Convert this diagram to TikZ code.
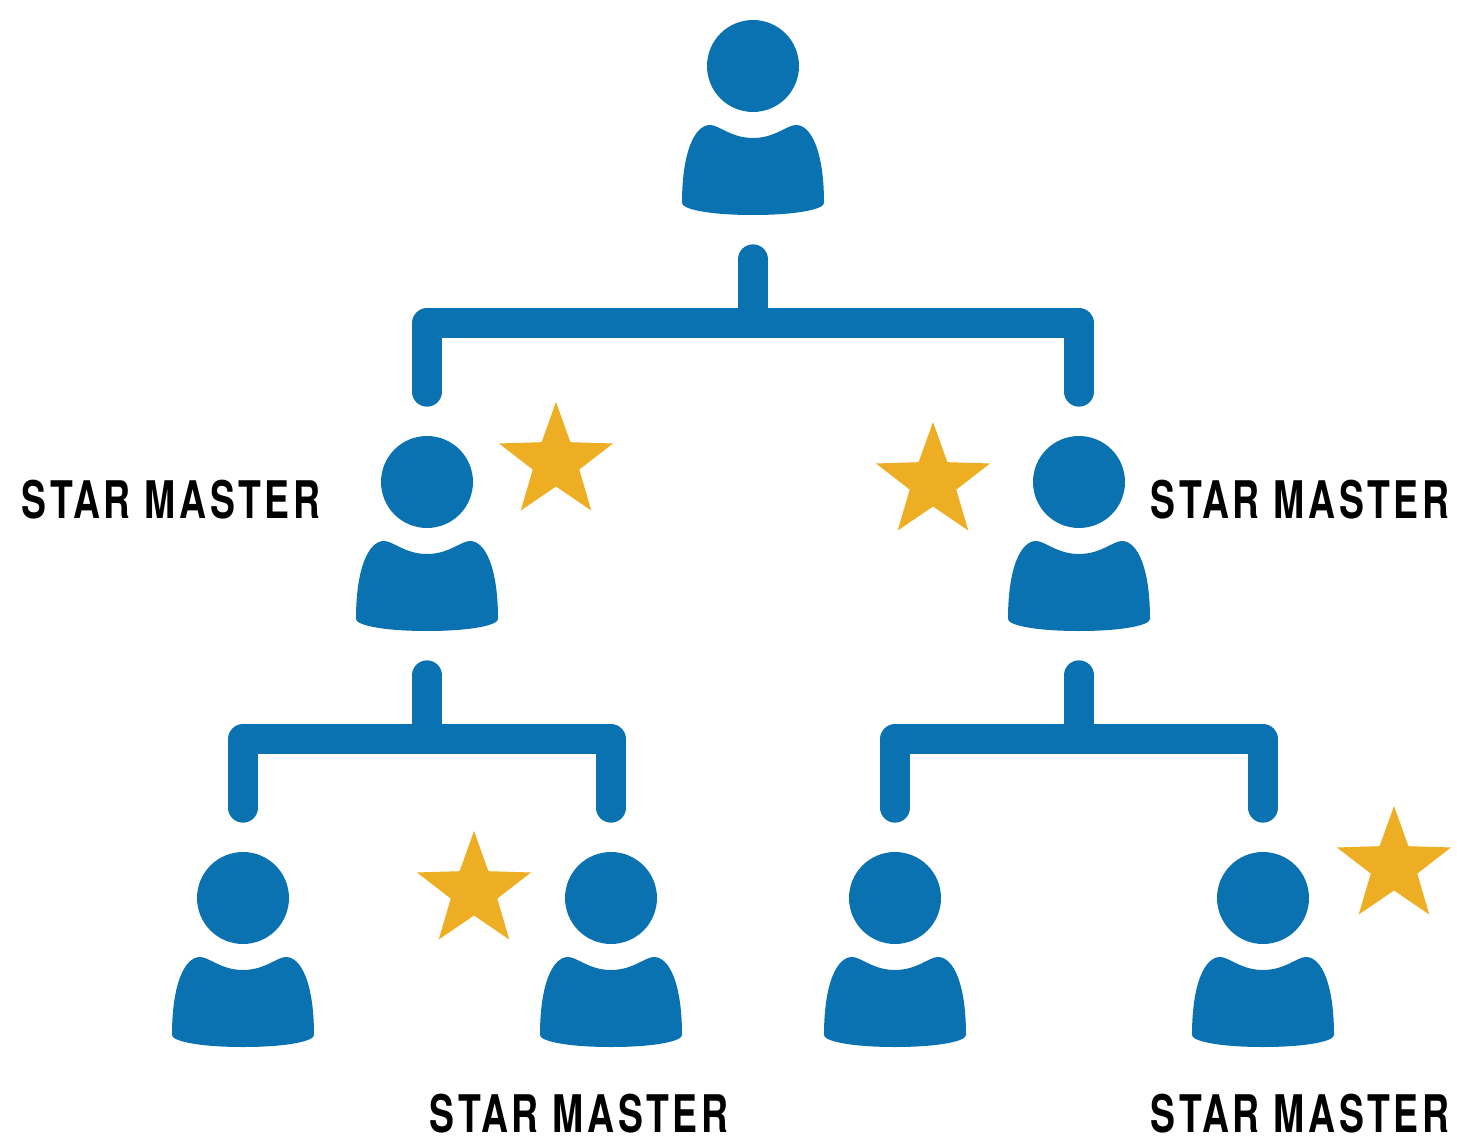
\documentclass[tikz,border=0pt]{standalone}
\usepackage{fontspec}
\setmainfont{TeX Gyre Heros}[FakeStretch=0.72,LetterSpace=7]
\usetikzlibrary{shapes.geometric}
\definecolor{userblue}{HTML}{0A72B0}
\definecolor{stargold}{HTML}{EEAE24}
\tikzset{
  link/.style={draw=userblue,line width=0.6cm,line cap=round,line join=round},
  starmark/.style={star,star points=5,star point ratio=2.45,fill=stargold,inner sep=0,minimum size=2.4cm},
  rank/.style={inner sep=0,font=\fontsize{29.5}{30}\selectfont\bfseries},
  person/.pic={
    \fill[userblue] (-43,59) .. controls (-34,59) and (-22,72) .. (0,72)
      .. controls (22,72) and (34,59) .. (43,59)
      .. controls (58,59) and (71,85) .. (71,137)
      .. controls (71,143) and (45,149) .. (0,149)
      .. controls (-45,149) and (-71,143) .. (-71,137)
      .. controls (-71,85) and (-58,59) .. (-43,59) -- cycle;
    \node[circle,fill=userblue,inner sep=0,minimum size=1.84cm] (-head) at (0,0) {};
    \node[inner sep=0,minimum width=2.8cm,minimum height=1.8cm] (-body) at (0,104) {};
  }
}
\begin{document}
\begin{tikzpicture}[x=0.02cm,y=-0.02cm]
\useasboundingbox (0,0) rectangle (1457,1138);
\pic (boss) at (753,66) {person};
\pic (left) at (427,482) {person};
\pic (right) at (1079,482) {person};
\pic (leftA) at (243,898) {person};
\pic (leftB) at (611,898) {person};
\pic (rightA) at (895,898) {person};
\pic (rightB) at (1263,898) {person};

\foreach \up/\one/\two in {boss/left/right,left/leftA/leftB,right/rightA/rightB}{
  \coordinate (\up-fork) at ([yshift=-2.16cm]\up-body.south);
  \draw[link,shorten >=0.1cm] ([yshift=-0.88cm]\up-body.south) -- (\up-fork);
  \draw[link] ([yshift=0.88cm]\one-head.north) |- (\up-fork) -| ([yshift=0.88cm]\two-head.north);
}

\node[starmark] (starA) at (556,462) {};
\node[starmark] (starB) at (933,482) {};
\node[starmark] (starC) at (474,891) {};
\node[starmark] (starD) at (1394,866) {};

\node[rank] (rankA) at (171,500) {STAR MASTER};
\node[rank] (rankB) at (1300,500) {STAR MASTER};
\node[rank] (rankC) at (579,1114) {STAR MASTER};
\node[rank] (rankD) at (1300,1114) {STAR MASTER};
\end{tikzpicture}
\end{document}
